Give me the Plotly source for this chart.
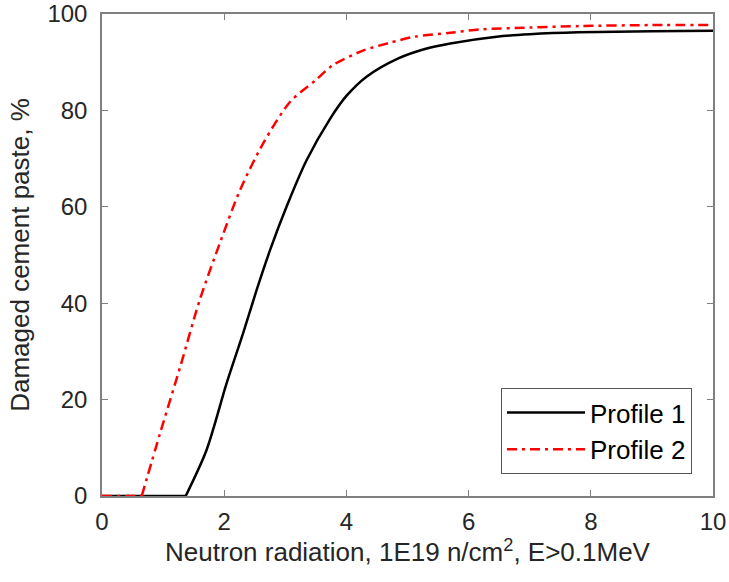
import plotly.graph_objects as go

# Profile 1 (black solid)
x1 = [0, 1.37, 1.71, 2.04, 2.31, 2.53, 2.75, 3.02, 3.35, 3.73, 4.0, 4.33, 4.85, 5.3, 5.7, 6.46, 7.0, 7.8, 9.0, 10]
y1 = [0, 0, 9.5, 23.4, 33.8, 42.7, 51.0, 60.0, 69.7, 78.2, 83.0, 87.0, 90.8, 92.8, 93.9, 95.3, 95.8, 96.2, 96.4, 96.5]

# Profile 2 (red dash-dot)
x2 = [0, 0.65, 0.95, 1.28, 1.60, 1.93, 2.26, 2.64, 3.08, 3.5, 3.78, 4.27, 4.7, 5.12, 5.7, 6.19, 7.0, 7.82, 9.0, 10]
y2 = [0, 0, 13.0, 26.8, 40.7, 52.5, 63.5, 73.2, 81.8, 86.3, 89.4, 92.4, 94.0, 95.3, 96.1, 96.8, 97.2, 97.5, 97.7, 97.7]

xticks = [0, 2, 4, 6, 8, 10]
yticks = [0, 20, 40, 60, 80, 100]

FONT = "Liberation Sans, Arial, sans-serif"
TXT = "#262626"
AX = "#808080"

line1 = dict(color="black", width=2.5)
line2 = dict(color="#ff0000", width=2.5, dash="10px,5px,3px,5px")

fig = go.Figure()
# flat (zero) part: linear; rising part: smoothed spline
fig.add_trace(go.Scatter(x=x1[:2], y=y1[:2], mode="lines", name="Profile 1",
                         legendgroup="p1", showlegend=False, line=line1))
fig.add_trace(go.Scatter(x=x1[1:], y=y1[1:], mode="lines", name="Profile 1",
                         legendgroup="p1", line=dict(**line1, shape="spline", smoothing=0.8)))
fig.add_trace(go.Scatter(x=x2[:2], y=y2[:2], mode="lines", name="Profile 2",
                         legendgroup="p2", showlegend=False, line=line2))
fig.add_trace(go.Scatter(x=x2[1:], y=y2[1:], mode="lines", name="Profile 2",
                         legendgroup="p2", line=dict(**line2, shape="spline", smoothing=0.8)))

axis_common = dict(showgrid=False, zeroline=False, showline=True, mirror="ticks",
                   linecolor=AX, linewidth=1.5, ticks="inside", ticklen=6,
                   tickcolor=AX, tickwidth=1, automargin=False,
                   tickfont=dict(family=FONT, size=24, color=TXT))

fig.update_xaxes(range=[0, 10], tickvals=xticks, ticklabelstandoff=3,
                 title=dict(text="Neutron radiation, 1E19 n/cm<sup>2</sup>, E>0.1MeV",
                            font=dict(family=FONT, size=26, color=TXT), standoff=6),
                 **axis_common)
fig.update_yaxes(range=[0, 100], tickvals=yticks, ticklabelstandoff=8,
                 title=dict(text="Damaged cement paste, %",
                            font=dict(family=FONT, size=26, color=TXT), standoff=10),
                 **axis_common)

fig.update_layout(
    width=729, height=582,
    margin=dict(l=102, r=16, t=14, b=86),
    paper_bgcolor="white", plot_bgcolor="white",
    font=dict(family=FONT, color=TXT),
    legend=dict(x=0.9656, y=0.0456, xanchor="right", yanchor="bottom",
                bgcolor="white", bordercolor="#555555", borderwidth=1,
                font=dict(family=FONT, size=26, color="black"),
                itemwidth=78, tracegroupgap=0),
    showlegend=True,
)

fig.write_html("out.html")
